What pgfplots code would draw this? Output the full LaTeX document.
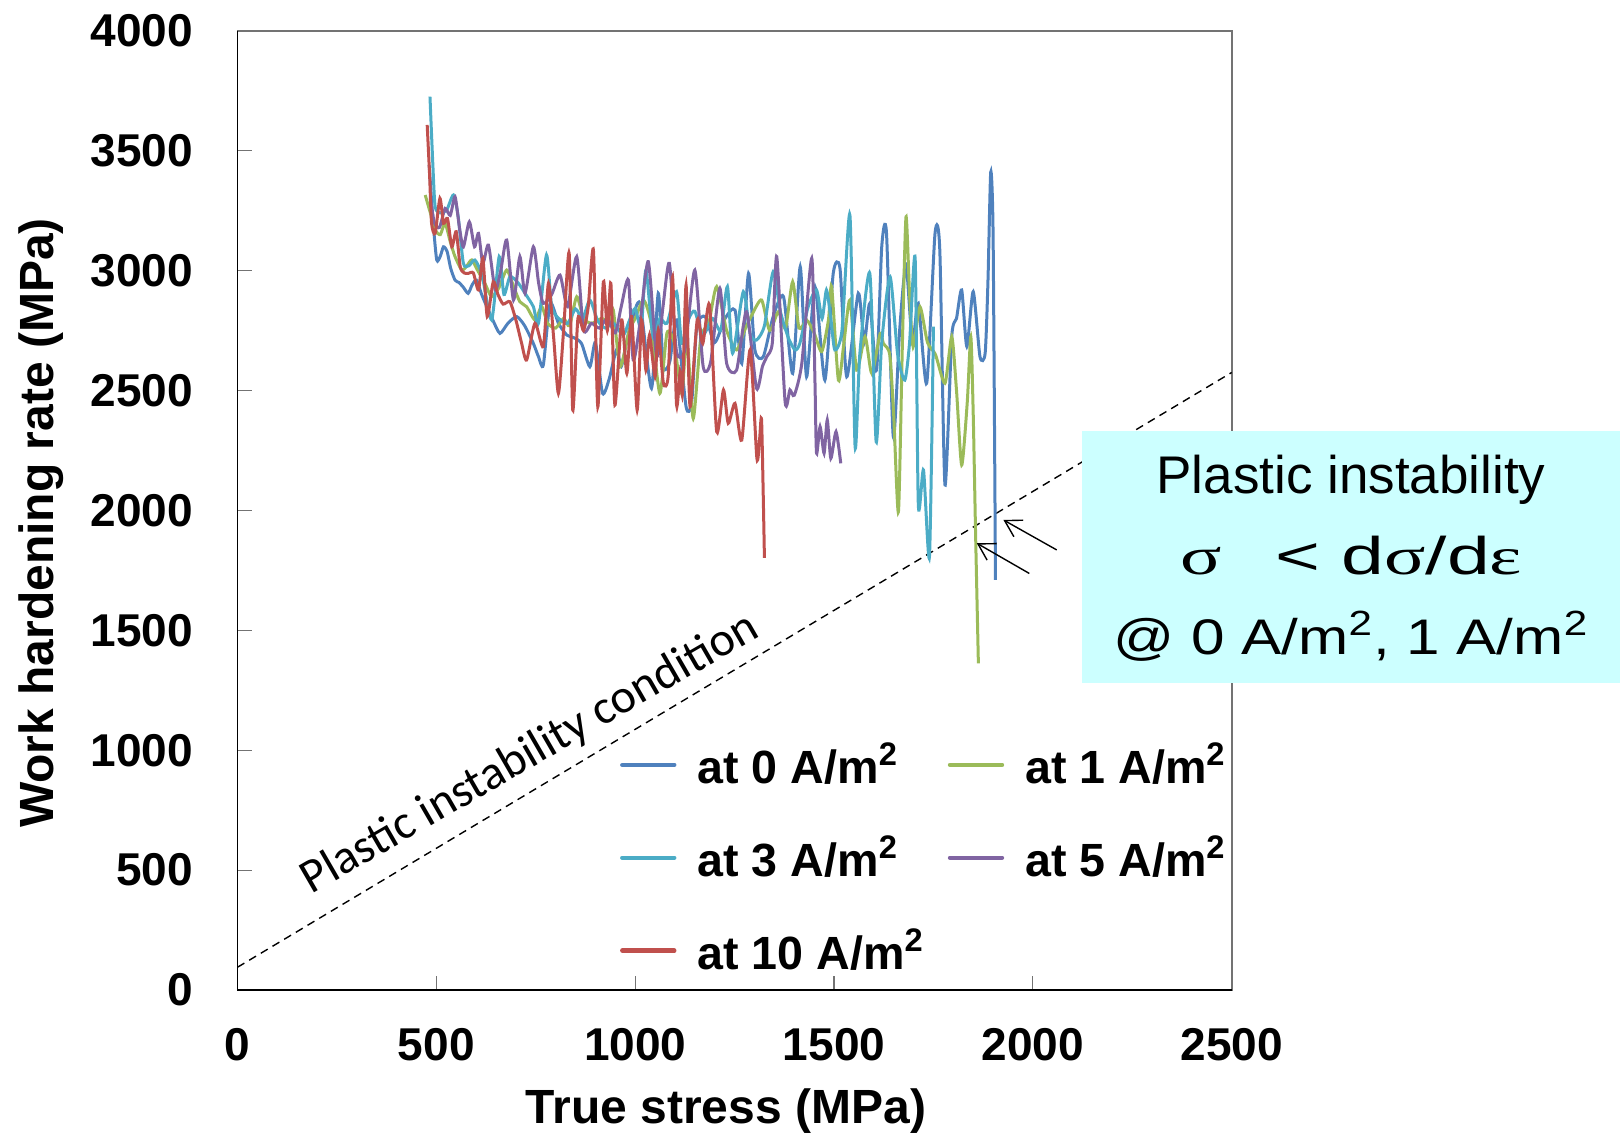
\documentclass[border=0pt]{standalone}
\usepackage{fontspec}
\setmainfont{Liberation Sans}
\newfontfamily\serifgr{Liberation Serif}
\newfontfamily\calib{Carlito}
\usepackage{pgfplots}
\pgfplotsset{compat=1.18}
\usetikzlibrary{arrows.meta}
\definecolor{c0}{HTML}{4F81BD}
\definecolor{c1}{HTML}{9BBB59}
\definecolor{c3}{HTML}{4BACC6}
\definecolor{c5}{HTML}{8064A2}
\definecolor{c10}{HTML}{C0504D}
\definecolor{boxfill}{HTML}{CCFFFF}
\begin{document}
\begin{tikzpicture}
\path[use as bounding box] (-118.75pt,-71pt) rectangle (691.25pt,495pt);
\begin{axis}[
  at={(0pt,0pt)}, anchor=south west, scale only axis,
  width=497.1pt, height=479.65pt,
  xmin=0, xmax=2500, ymin=0, ymax=4000,
  xtick={0,500,...,2500}, ytick={0,500,...,4000},
  tick pos=left, tick align=inside, major tick length=7pt,
  every tick/.style={draw=black!55, line width=0.6pt},
  axis line style={draw=black!55, line width=0.8pt},
  ticklabel style={font=\fontsize{23}{23}\selectfont\bfseries, inner sep=0pt},
  /pgf/number format/assume math mode=true,
  /pgf/number format/1000 sep={},
  xticklabel shift=19pt, yticklabel shift=22pt,
  legend columns=2,
  legend cell align=left,
  legend style={at={(axis cs:962,1030)}, anchor=north west, draw=none, fill=none,
     inner sep=0pt, outer sep=0pt, row sep=24.5pt,
     nodes={inner sep=0pt, font=\fontsize{23.3}{23.3}\selectfont\bfseries},
     /tikz/every odd column/.append style={column sep=10.5pt},
     /tikz/every even column/.append style={column sep=12pt}},
  legend image code/.code={\draw[#1, line width=2.2pt, line cap=round] (0pt,0pt) -- (26pt,0pt);},
  clip=false,
]
\addplot[black, line width=0.7pt, dash pattern=on 4pt off 2.8pt, forget plot] coordinates {(0,95) (2500,2575)};

\addplot[c0, line width=1.5pt, smooth, tension=0.4] coordinates {
(482,3440)(492,3200)(501,3044)(510,3060)(518,3099)(527,3080)(536,3010)(547,2960)(557,2950)(568,2930)(580,2905)(590,2940)(601,2960)(614,2900)(627,2849)(643,2790)(660,2738)(680,2780)(702,2808)(722,2770)(744,2696)(757,2640)(769,2606)(786,2863)(807,2780)(828,2731)(846,2720)(865,2696)(886,2599)(900,2700)(918,2488)(935,2550)(953,2669)(965,2600)(978,2700)(990,2780)(1012,2863)(1041,2509)(1058,2905)(1071,2599)(1087,2620)(1104,2794)(1128,2432)(1142,2450)(1155,2766)(1176,2808)(1200,2700)(1226,2800)(1251,2835)(1268,2613)(1285,2988)(1301,2669)(1322,2640)(1347,2808)(1373,2891)(1396,2571)(1415,3016)(1431,2557)(1452,2933)(1477,2543)(1498,2988)(1515,3009)(1532,2557)(1561,2905)(1576,2700)(1590,2863)(1607,2585)(1620,3099)(1632,3155)(1649,2307)(1665,2750)(1681,3023)(1697,2700)(1712,2863)(1733,2530)(1754,3155)(1766,3085)(1779,2106)(1796,2724)(1808,2800)(1821,2919)(1834,2683)(1850,2912)(1867,2641)(1880,2655)(1887,2950)(1894,3410)(1900,3150)(1906,1710)};
\addlegendentry{at 0 A/m\textsuperscript{2}}

\addplot[c1, line width=1.5pt, smooth, tension=0.4] coordinates {
(472,3315)(485,3240)(497,3169)(510,3150)(522,3197)(535,3120)(547,3058)(564,3002)(577,3020)(589,3044)(604,3000)(622,2947)(639,2891)(658,2930)(677,3002)(695,2930)(710,2870)(727,2849)(748,2794)(765,2850)(780,2780)(800,2760)(820,2800)(835,2770)(853,2891)(870,2800)(891,2780)(915,2800)(935,2790)(945,2835)(962,2599)(985,2750)(1000,2800)(1021,2877)(1040,2780)(1062,2488)(1080,2740)(1098,2700)(1117,2488)(1130,2720)(1146,2383)(1165,2720)(1185,2780)(1205,2933)(1230,2750)(1255,2669)(1275,2750)(1295,2820)(1318,2877)(1338,2750)(1360,2828)(1378,2760)(1396,2953)(1412,2760)(1431,2794)(1450,2740)(1469,2662)(1486,2794)(1494,2933)(1511,2543)(1525,2700)(1540,2877)(1557,2585)(1578,2724)(1595,2571)(1616,2738)(1624,2696)(1640,2650)(1650,2400)(1662,1994)(1672,2700)(1681,3224)(1690,2900)(1699,2682)(1716,2849)(1735,2700)(1755,2650)(1779,2530)(1796,2724)(1808,2500)(1821,2189)(1835,2450)(1844,2724)(1850,2404)(1856,1900)(1863,1362)};
\addlegendentry{at 1 A/m\textsuperscript{2}}

\addplot[c3, line width=1.5pt, smooth, tension=0.4] coordinates {
(484,3725)(491,3450)(497,3266)(510,3240)(526,3252)(543,3315)(555,3224)(568,3030)(582,3020)(597,3044)(615,2980)(639,2794)(658,3058)(670,2900)(685,2974)(705,2950)(725,2900)(744,2849)(757,2780)(777,3065)(790,2850)(808,2800)(830,2780)(850,2840)(868,2800)(886,2877)(906,2790)(925,2760)(945,2780)(970,2731)(985,2790)(1000,2842)(1015,2760)(1027,3002)(1045,2720)(1062,2800)(1080,2780)(1104,2912)(1117,2696)(1135,2800)(1150,2830)(1170,2730)(1195,2800)(1215,2750)(1232,2933)(1245,2655)(1272,2912)(1289,2738)(1305,2710)(1325,2770)(1347,2995)(1365,2830)(1385,2720)(1402,2669)(1414,2696)(1435,2849)(1456,2919)(1470,2800)(1481,2919)(1492,2800)(1502,2669)(1520,2750)(1540,3231)(1553,2265)(1565,2655)(1590,2988)(1606,2286)(1620,2700)(1641,2974)(1660,2650)(1678,2543)(1690,2700)(1704,3051)(1712,2022)(1725,2168)(1740,1807)(1750,2766)};
\addlegendentry{at 3 A/m\textsuperscript{2}}

\addplot[c5, line width=1.5pt, smooth, tension=0.4] coordinates {
(485,3300)(495,3200)(508,3180)(522,3259)(535,3230)(547,3308)(558,3180)(568,3099)(583,3203)(596,3099)(606,3155)(617,3030)(631,3106)(648,2919)(662,3000)(677,3127)(694,2877)(710,3058)(723,2905)(744,3099)(757,2950)(769,2863)(790,2900)(811,2981)(830,2850)(853,3058)(870,2752)(890,2780)(910,2760)(930,2800)(950,2740)(965,2850)(983,2960)(995,2627)(1012,2780)(1033,3037)(1054,2641)(1070,2850)(1086,3030)(1104,2662)(1125,2670)(1150,3002)(1171,2599)(1190,2620)(1213,2926)(1230,2613)(1255,2585)(1280,2828)(1305,2509)(1320,2600)(1331,2641)(1345,2700)(1356,3058)(1377,2453)(1389,2502)(1400,2480)(1419,2613)(1444,3051)(1452,2543)(1456,2238)(1465,2349)(1475,2238)(1483,2377)(1492,2217)(1505,2328)(1517,2196)};
\addlegendentry{at 5 A/m\textsuperscript{2}}

\addplot[c10, line width=1.5pt, smooth, tension=0.4] coordinates {
(477,3607)(483,3400)(488,3197)(497,3155)(509,3301)(518,3197)(528,3217)(539,3099)(550,3162)(560,3016)(570,2990)(580,2988)(593,2990)(606,2919)(617,3051)(628,2808)(643,2953)(655,2900)(668,2860)(685,2870)(700,2794)(714,2700)(727,2627)(748,2780)(769,2683)(782,2947)(795,2720)(807,2488)(820,2750)(834,3072)(843,2418)(856,2800)(870,2750)(882,2850)(895,3085)(906,2432)(920,2953)(930,2750)(939,2946)(949,2439)(966,2794)(979,2571)(991,2808)(1005,2418)(1016,2794)(1027,2585)(1036,2731)(1050,2557)(1058,2752)(1071,2530)(1083,2560)(1094,2974)(1104,2439)(1113,2578)(1119,2488)(1128,2939)(1138,2432)(1156,2794)(1170,2696)(1187,2856)(1205,2328)(1222,2502)(1234,2363)(1251,2446)(1268,2293)(1289,2669)(1306,2217)(1313,2300)(1318,2370)(1325,1802)};
\addlegendentry{at 10 A/m\textsuperscript{2}}

\draw[black, line width=0.8pt] (rel axis cs:0,1) -- (rel axis cs:0,0) -- (rel axis cs:1,0);
\draw[black, line width=0.7pt, -{Straight Barb[length=8pt,width=9.5pt]}] (axis cs:2060,1835) -- (axis cs:1926,1960);
\draw[black, line width=0.7pt, -{Straight Barb[length=8pt,width=9.5pt]}] (axis cs:1991,1737) -- (axis cs:1859,1863);
\end{axis}
\begin{scope}[x=0.5pt,y=0.5pt]
\fill[boxfill] (844.5,307) rectangle (1400,559);
\node[anchor=base, inner sep=0pt, font=\fontsize{26.5}{26.5}\selectfont] at (1113.5,497) {Plastic instability};
\node[anchor=base, inner sep=0pt, font=\fontsize{26.5}{26.5}\selectfont] at (1113.5,416) {\resizebox{171pt}{\height}{{\serifgr σ}\hspace{0.7em}<~d{\serifgr σ}/d{\serifgr ε}}};
\node[anchor=base, inner sep=0pt, font=\fontsize{25}{25}\selectfont] at (1113.5,336) {\resizebox{237.5pt}{\height}{@ 0 A/m\textsuperscript{2}, 1 A/m\textsuperscript{2}}};
\node[rotate=90, anchor=base, inner sep=0pt, font=\fontsize{24}{24}\selectfont\bfseries] at (-184,467) {Work hardening rate (MPa)};
\node[anchor=base, inner sep=0pt, font=\fontsize{24}{24}\selectfont\bfseries] at (488.5,-133) {True stress (MPa)};
\node[anchor=base west, rotate=30, inner sep=0pt, font=\calib\fontsize{24}{24}\selectfont] at (74,95) {Plastic instability condition};
\end{scope}
\end{tikzpicture}
\end{document}
